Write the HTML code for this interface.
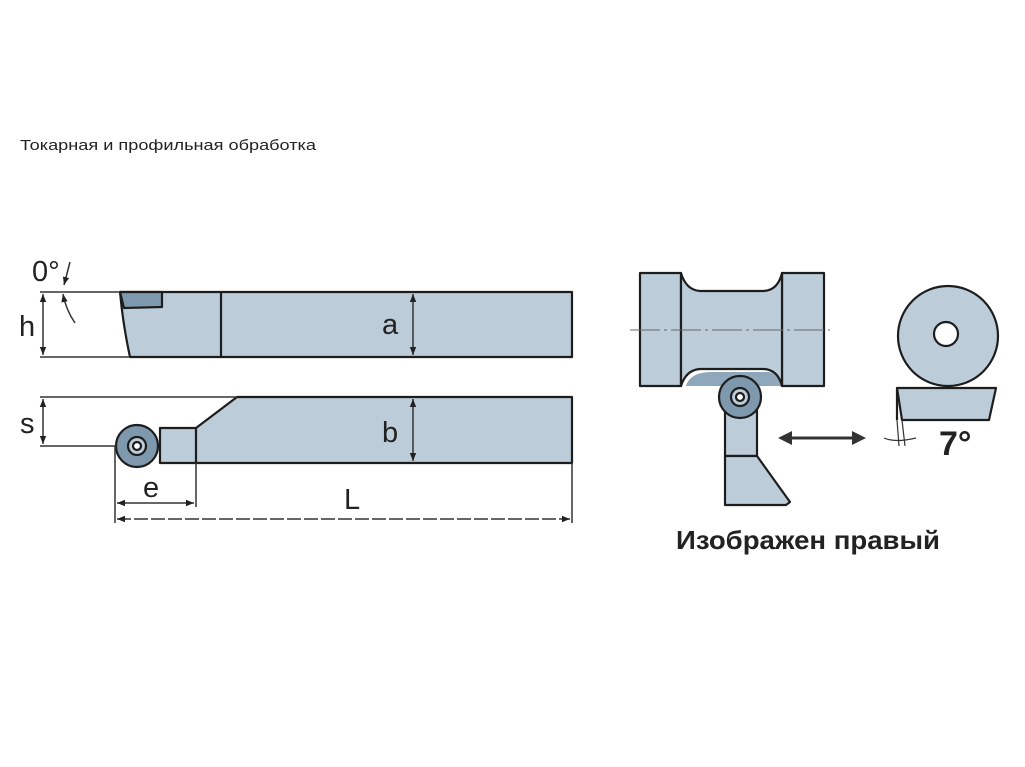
<!DOCTYPE html>
<html><head><meta charset="utf-8"><style>
body{margin:0;background:#fff;width:1025px;height:767px;overflow:hidden}
svg{display:block}
</style></head><body>
<svg width="1025" height="767" viewBox="0 0 1025 767" xmlns="http://www.w3.org/2000/svg">
<defs>
<marker id="ar" viewBox="0 0 10 10" refX="10" refY="5" markerWidth="12" markerHeight="8" orient="auto-start-reverse" markerUnits="userSpaceOnUse"><path d="M0,1 L10,5 L0,9 Z" fill="#222"/></marker>
</defs>
<text x="20" y="150" font-family="Liberation Sans, DejaVu Sans, sans-serif" font-size="15" fill="#222" textLength="296" lengthAdjust="spacingAndGlyphs">Токарная и профильная обработка</text>
<g stroke="#1d1d1d" stroke-width="2.2" fill="#bccdd9" stroke-linejoin="round">
<path d="M120,292 L572,292 L572,357 L130,357 Q123,325 120,292 Z"/>
<line x1="221" y1="292" x2="221" y2="357"/>
<path d="M120,292 L162,292 L162,307 L124,308 Z" fill="#7e98ad"/>
<path d="M237,397 L572,397 L572,463 L160,463 L160,428 L196,428 Z"/>
<line x1="196" y1="428" x2="196" y2="463"/>
<circle cx="137" cy="446" r="21" fill="#7e98ad"/>
<circle cx="137" cy="446" r="9" fill="#bccdd9"/>
<circle cx="137" cy="446" r="4" fill="#fff"/>
</g>
<g stroke="#333" stroke-width="1.5" fill="none">
<line x1="40" y1="292" x2="120" y2="292"/>
<line x1="40" y1="357" x2="130" y2="357"/>
<line x1="43" y1="294" x2="43" y2="355" marker-start="url(#ar)" marker-end="url(#ar)"/>
<line x1="40" y1="397" x2="237" y2="397"/>
<line x1="40" y1="446" x2="116" y2="446"/>
<line x1="43" y1="399" x2="43" y2="444" marker-start="url(#ar)" marker-end="url(#ar)"/>
<path d="M70,262 L64,285" marker-end="url(#ar)"/>
<path d="M75,323 Q66,310 63,294" marker-end="url(#ar)"/>
<line x1="413" y1="294" x2="413" y2="355" marker-start="url(#ar)" marker-end="url(#ar)"/>
<line x1="413" y1="399" x2="413" y2="461" marker-start="url(#ar)" marker-end="url(#ar)"/>
<line x1="115" y1="446" x2="115" y2="523"/>
<line x1="196" y1="463" x2="196" y2="507"/>
<line x1="572" y1="463" x2="572" y2="523"/>
<line x1="117" y1="503" x2="194" y2="503" marker-start="url(#ar)" marker-end="url(#ar)"/>
<line x1="117" y1="519" x2="570" y2="519" stroke-dasharray="14,3" marker-start="url(#ar)" marker-end="url(#ar)"/>
</g>
<g font-family="Liberation Sans, sans-serif" font-size="29" fill="#222">
<text x="32" y="281">0°</text>
<text x="19" y="336">h</text>
<text x="20" y="433">s</text>
<text x="382" y="334">a</text>
<text x="382" y="442">b</text>
<text x="143" y="497">e</text>
<text x="344" y="509">L</text>
</g>
<g stroke="#1d1d1d" stroke-width="2.2" fill="#bccdd9" stroke-linejoin="round">
<path d="M686,386 Q690,372 712,372 L768,372 Q776,372 782,386 Z" fill="#8ea7ba" stroke="none"/>
<rect x="640" y="273" width="41" height="113"/>
<rect x="782" y="273" width="42" height="113"/>
<path d="M681,273 Q686,290 700,291 L764,291 Q778,290 782,273 L782,386 Q778,370 764,369 L700,369 Q686,370 681,386 Z"/>
<path d="M725,410 L757,410 L757,456 L725,456 Z"/>
<path d="M725,456 L757,456 L790,502 L786,505 L725,505 Z"/>
<circle cx="740" cy="397" r="21" fill="#7e98ad"/>
<circle cx="740" cy="397" r="9" fill="#bccdd9"/>
<circle cx="740" cy="397" r="4" fill="#fff"/>
<circle cx="948" cy="336" r="50"/>
<circle cx="946" cy="334" r="12" fill="#fff"/>
<path d="M897,388 L996,388 L989,420 L902,420 Z"/>
<line x1="897" y1="388" x2="897" y2="420"/>
</g>
<line x1="630" y1="330" x2="830" y2="330" stroke="#666" stroke-width="1" stroke-dasharray="30,4,3,4"/>
<line x1="786" y1="438" x2="858" y2="438" stroke="#333" stroke-width="3"/>
<path d="M778,438 L792,431 L792,445 Z M866,438 L852,431 L852,445 Z" fill="#333"/>
<g stroke="#333" stroke-width="1.2" fill="none">
<line x1="897" y1="420" x2="899" y2="446"/>
<line x1="902" y1="420" x2="905" y2="446"/>
<path d="M884,438 Q895,443 916,438"/>
</g>
<text x="939" y="455" font-family="Liberation Sans, sans-serif" font-size="34" font-weight="bold" fill="#222">7°</text>
<text x="676" y="549" font-family="Liberation Sans, sans-serif" font-size="26" font-weight="bold" fill="#222" textLength="264" lengthAdjust="spacingAndGlyphs">Изображен правый</text>
</svg>
</body></html>
